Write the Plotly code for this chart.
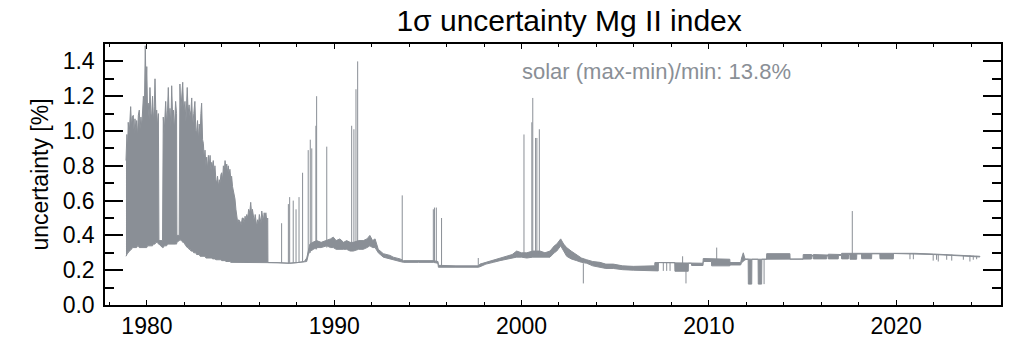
import plotly.graph_objects as go

# ---- data (decimal year, 1-sigma uncertainty in %) ----
# envelope of the daily uncertainty: lower and upper bound of the values
env_year = [
    1978.88, 1978.93, 1978.97, 1979.00, 1979.05, 1979.09, 1979.13, 1979.18, 1979.22, 1979.27,
    1979.32, 1979.36, 1979.41, 1979.45, 1979.50, 1979.54, 1979.59, 1979.63, 1979.68, 1979.72,
    1979.77, 1979.81, 1979.86, 1979.91, 1979.95, 1979.99, 1980.03, 1980.07, 1980.12, 1980.16,
    1980.21, 1980.25, 1980.30, 1980.34, 1980.39, 1980.43, 1980.48, 1980.52, 1980.57, 1980.61,
    1980.64, 1980.83, 1980.87, 1980.92, 1981.00, 1981.05, 1981.10, 1981.14, 1981.19, 1981.23,
    1981.28, 1981.32, 1981.37, 1981.41, 1981.46, 1981.50, 1981.53, 1981.58, 1981.60, 1981.72,
    1981.74, 1981.76, 1981.81, 1981.86, 1981.91, 1981.96, 1982.03, 1982.08, 1982.15, 1982.20,
    1982.25, 1982.30, 1982.35, 1982.39, 1982.44, 1982.50, 1982.56, 1982.61, 1982.65, 1982.70,
    1982.74, 1982.79, 1982.84, 1982.88, 1982.92, 1982.97, 1983.01, 1983.06, 1983.10, 1983.15,
    1983.19, 1983.24, 1983.28, 1983.33, 1983.37, 1983.42, 1983.46, 1983.50, 1983.54, 1983.59,
    1983.63, 1983.68, 1983.72, 1983.77, 1983.81, 1983.86, 1983.90, 1983.95, 1983.99, 1984.04,
    1984.08, 1984.13, 1984.17, 1984.22, 1984.26, 1984.30, 1984.34, 1984.39, 1984.43, 1984.48,
    1984.52, 1984.57, 1984.61, 1984.66, 1984.70, 1984.75, 1984.80, 1984.85, 1984.90, 1984.97,
    1985.03, 1985.09, 1985.14, 1985.19, 1985.24, 1985.28, 1985.33, 1985.38, 1985.43, 1985.49,
    1985.54, 1985.59, 1985.63, 1985.68, 1985.73, 1985.78, 1985.82, 1985.86, 1985.91, 1985.96,
    1986.00, 1986.05, 1986.09, 1986.13, 1986.17, 1986.21, 1986.26, 1986.30, 1986.35, 1986.39,
    1986.45, 1986.46, 1987.00, 1987.60, 1988.00, 1988.40, 1988.53, 1988.62, 1988.70, 1988.85,
    1989.06, 1989.30, 1989.60, 1989.80, 1989.95, 1990.10, 1990.30, 1990.50, 1990.66, 1990.85,
    1991.02, 1991.30, 1991.55, 1991.75, 1991.90, 1992.05, 1992.18, 1992.35, 1992.62, 1992.98,
    1993.15, 1993.51, 1993.70, 1994.50, 1995.29, 1995.54, 1995.56, 1996.50, 1997.69, 1997.78,
    1998.10, 1998.49, 1998.85, 1999.21, 1999.50, 1999.74, 2000.00, 2000.28, 2000.60, 2000.99,
    2001.25, 2001.52, 2001.75, 2001.88, 2002.09, 2002.25, 2002.41, 2002.65, 2002.94, 2003.20,
    2003.48, 2003.80, 2004.19, 2004.50, 2004.90, 2005.40, 2005.97, 2006.50, 2007.03, 2007.11,
    2007.12, 2007.30, 2007.31, 2008.18, 2008.19, 2008.90, 2008.91, 2009.07, 2009.08, 2009.69,
    2009.70, 2010.14, 2010.15, 2011.12, 2011.13, 2011.70, 2011.75, 2011.84, 2011.93, 2012.10,
    2012.11, 2012.29, 2012.30, 2012.63, 2012.64, 2012.82, 2012.83, 2013.08, 2013.09, 2014.33,
    2014.34, 2015.03, 2015.04, 2015.49, 2015.50, 2015.57, 2015.58, 2016.29, 2016.30, 2016.37,
    2016.38, 2016.91, 2016.92, 2017.08, 2017.09, 2017.45, 2017.46, 2017.53, 2017.54, 2017.89,
    2017.90, 2018.15, 2018.16, 2018.69, 2018.70, 2019.13, 2019.14, 2019.85, 2019.86, 2021.00,
    2022.00, 2023.00, 2024.00, 2024.47,
]
env_low = [
    0.28, 0.29, 0.30, 0.30, 0.31, 0.31, 0.32, 0.32, 0.33, 0.33,
    0.33, 0.33, 0.33, 0.33, 0.34, 0.34, 0.33, 0.33, 0.33, 0.33,
    0.33, 0.33, 0.33, 0.33, 0.33, 0.33, 0.34, 0.34, 0.34, 0.34,
    0.34, 0.34, 0.34, 0.35, 0.35, 0.35, 0.36, 0.36, 0.36, 0.35,
    0.35, 0.33, 0.33, 0.34, 0.34, 0.34, 0.35, 0.35, 0.35, 0.35,
    0.35, 0.35, 0.35, 0.35, 0.35, 0.35, 0.35, 0.35, 0.36, 0.37,
    0.37, 0.38, 0.37, 0.37, 0.36, 0.36, 0.35, 0.34, 0.33, 0.33,
    0.32, 0.32, 0.31, 0.31, 0.31, 0.30, 0.30, 0.30, 0.29, 0.29,
    0.29, 0.29, 0.28, 0.28, 0.28, 0.28, 0.28, 0.28, 0.28, 0.27,
    0.27, 0.27, 0.27, 0.27, 0.27, 0.27, 0.27, 0.265, 0.265, 0.265,
    0.265, 0.26, 0.26, 0.26, 0.26, 0.26, 0.26, 0.26, 0.255, 0.255,
    0.255, 0.255, 0.255, 0.25, 0.25, 0.25, 0.25, 0.25, 0.25, 0.245,
    0.245, 0.245, 0.245, 0.245, 0.245, 0.245, 0.245, 0.245, 0.245, 0.245,
    0.245, 0.245, 0.245, 0.245, 0.245, 0.245, 0.245, 0.245, 0.245, 0.245,
    0.245, 0.245, 0.245, 0.245, 0.245, 0.245, 0.245, 0.245, 0.245, 0.245,
    0.245, 0.245, 0.245, 0.245, 0.245, 0.245, 0.245, 0.245, 0.245, 0.245,
    0.245, 0.244, 0.243, 0.240, 0.243, 0.248, 0.25, 0.29, 0.31, 0.32,
    0.33, 0.33, 0.34, 0.33, 0.33, 0.32, 0.32, 0.32, 0.32, 0.31,
    0.31, 0.32, 0.32, 0.33, 0.34, 0.33, 0.33, 0.30, 0.275, 0.265,
    0.26, 0.25, 0.245, 0.245, 0.245, 0.24, 0.217, 0.217, 0.217, 0.22,
    0.235, 0.245, 0.255, 0.265, 0.27, 0.275, 0.275, 0.27, 0.275, 0.275,
    0.275, 0.275, 0.30, 0.31, 0.34, 0.31, 0.28, 0.265, 0.255, 0.245,
    0.24, 0.225, 0.215, 0.21, 0.21, 0.203, 0.2, 0.2, 0.2, 0.2,
    0.196, 0.196, 0.244, 0.244, 0.194, 0.194, 0.24, 0.24, 0.227, 0.227,
    0.25, 0.25, 0.225, 0.225, 0.23, 0.23, 0.244, 0.25, 0.26, 0.263,
    0.12, 0.12, 0.263, 0.263, 0.12, 0.12, 0.263, 0.263, 0.263, 0.263,
    0.263, 0.263, 0.265, 0.265, 0.282, 0.282, 0.265, 0.265, 0.282, 0.282,
    0.265, 0.265, 0.285, 0.285, 0.265, 0.265, 0.29, 0.29, 0.263, 0.263,
    0.293, 0.293, 0.266, 0.266, 0.294, 0.294, 0.265, 0.265, 0.296, 0.294,
    0.290, 0.285, 0.280, 0.276,
]
env_high = [
    0.83, 0.98, 0.90, 1.05, 0.98, 1.10, 1.14, 1.02, 1.08, 1.09,
    0.98, 1.07, 1.00, 1.06, 0.97, 1.09, 1.12, 1.01, 1.08, 1.02,
    1.12, 1.20, 1.10, 1.49, 1.25, 1.37, 1.12, 1.16, 1.06, 1.25,
    1.10, 1.08, 1.20, 1.05, 1.14, 1.30, 1.08, 1.12, 1.02, 1.10,
    0.37, 0.37, 1.08, 0.99, 1.17, 1.04, 1.12, 1.25, 1.06, 1.13,
    1.02, 1.26, 1.08, 1.12, 1.00, 1.10, 1.17, 1.10, 0.40, 0.40,
    1.20, 1.27, 1.12, 1.22, 1.28, 1.10, 1.17, 1.05, 1.25, 1.10,
    1.15, 1.08, 1.12, 1.19, 1.02, 1.10, 1.17, 1.00, 0.99, 1.06,
    0.94, 1.04, 0.98, 1.10, 1.16, 0.95, 0.93, 0.84, 0.89, 0.80,
    0.85, 0.78, 0.86, 0.80, 0.86, 0.77, 0.82, 0.79, 0.83, 0.76,
    0.80, 0.72, 0.70, 0.74, 0.68, 0.72, 0.70, 0.75, 0.76, 0.72,
    0.80, 0.77, 0.83, 0.78, 0.81, 0.76, 0.80, 0.75, 0.78, 0.72,
    0.74, 0.68, 0.66, 0.63, 0.61, 0.55, 0.49, 0.47, 0.49, 0.48,
    0.46, 0.50, 0.50, 0.47, 0.51, 0.49, 0.52, 0.50, 0.55, 0.53,
    0.59, 0.52, 0.55, 0.51, 0.48, 0.52, 0.46, 0.45, 0.49, 0.47,
    0.52, 0.50, 0.47, 0.54, 0.51, 0.48, 0.53, 0.50, 0.53, 0.49,
    0.50, 0.244, 0.243, 0.240, 0.243, 0.250, 0.27, 0.32, 0.35, 0.36,
    0.37, 0.36, 0.37, 0.38, 0.39, 0.37, 0.38, 0.36, 0.37, 0.36,
    0.36, 0.37, 0.37, 0.38, 0.40, 0.37, 0.38, 0.32, 0.295, 0.285,
    0.275, 0.265, 0.255, 0.255, 0.255, 0.25, 0.228, 0.225, 0.225, 0.235,
    0.245, 0.26, 0.27, 0.28, 0.29, 0.31, 0.30, 0.30, 0.31, 0.31,
    0.30, 0.31, 0.34, 0.35, 0.38, 0.35, 0.33, 0.31, 0.29, 0.27,
    0.26, 0.25, 0.245, 0.235, 0.235, 0.225, 0.222, 0.222, 0.225, 0.225,
    0.244, 0.244, 0.244, 0.244, 0.244, 0.24, 0.24, 0.24, 0.24, 0.24,
    0.267, 0.267, 0.263, 0.263, 0.244, 0.244, 0.27, 0.30, 0.265, 0.263,
    0.263, 0.263, 0.263, 0.263, 0.263, 0.263, 0.263, 0.263, 0.295, 0.295,
    0.263, 0.263, 0.29, 0.29, 0.285, 0.285, 0.29, 0.29, 0.287, 0.287,
    0.292, 0.292, 0.29, 0.29, 0.297, 0.297, 0.294, 0.294, 0.297, 0.297,
    0.297, 0.297, 0.297, 0.297, 0.297, 0.297, 0.297, 0.297, 0.298, 0.297,
    0.293, 0.289, 0.284, 0.280,
]

# isolated single-day excursions: year, value on the baseline, excursion value
spike_year = [
    1987.19, 1987.55, 1987.62, 1987.81, 1987.96, 1988.12, 1988.31, 1988.61, 1988.72, 1988.80,
    1989.02, 1989.06, 1989.60, 1990.93, 1991.05, 1991.16, 1991.25, 1993.63, 1995.29, 1995.35,
    1995.45, 1995.73, 1997.69, 2000.13, 2000.55, 2000.60, 2000.75, 2000.82, 2000.95, 2003.30,
    2007.57, 2007.75, 2007.93, 2008.60, 2008.78, 2010.42, 2012.95, 2017.66, 2020.74, 2020.92,
    2021.98, 2022.16, 2022.25, 2022.70, 2022.97, 2023.59, 2023.94, 2024.12, 2024.30,
]
spike_base = [
    0.242, 0.240, 0.240, 0.242, 0.243, 0.245, 0.248, 0.29, 0.30, 0.31,
    0.32, 0.32, 0.33, 0.33, 0.33, 0.33, 0.33, 0.25, 0.25, 0.25,
    0.25, 0.222, 0.222, 0.28, 0.29, 0.29, 0.29, 0.29, 0.29, 0.24,
    0.244, 0.244, 0.244, 0.24, 0.24, 0.26, 0.263, 0.29, 0.296, 0.296,
    0.293, 0.292, 0.292, 0.290, 0.289, 0.287, 0.285, 0.283, 0.282,
]
spike_value = [
    0.47, 0.58, 0.62, 0.60, 0.55, 0.62, 0.76, 0.89, 0.95, 0.90,
    1.03, 1.20, 0.91, 1.03, 1.01, 1.24, 1.40, 0.63, 0.55, 0.56,
    0.56, 0.50, 0.27, 0.98, 1.05, 1.19, 0.96, 0.96, 1.01, 0.124,
    0.196, 0.196, 0.196, 0.28, 0.124, 0.33, 0.12, 0.54, 0.263, 0.263,
    0.255, 0.26, 0.25, 0.26, 0.255, 0.26, 0.25, 0.26, 0.263,
]

x_ticks = [1980, 1990, 2000, 2010, 2020]
y_ticks = [0.0, 0.2, 0.4, 0.6, 0.8, 1.0, 1.2, 1.4]

title_text = "1σ uncertainty Mg II index"
note_text = "solar (max-min)/min: 13.8%"

GRAY = "#8a8f96"
FONT = "Liberation Sans, Arial, Helvetica, sans-serif"

# ---- figure ----
band_x = env_year + env_year[::-1]
band_y = env_high + env_low[::-1]

sp_x, sp_y = [], []
for yr, b, v in zip(spike_year, spike_base, spike_value):
    sp_x += [yr, yr, None]
    sp_y += [b, v, None]

fig = go.Figure()
fig.add_trace(go.Scatter(
    x=band_x, y=band_y, mode="lines", fill="toself", fillcolor=GRAY,
    line=dict(color=GRAY, width=1), hoverinfo="skip", showlegend=False,
))
fig.add_trace(go.Scatter(
    x=sp_x, y=sp_y, mode="lines", line=dict(color=GRAY, width=1),
    hoverinfo="skip", showlegend=False,
))

fig.update_layout(
    width=1025, height=342,
    margin=dict(l=105, r=24, t=44, b=37, autoexpand=False),
    paper_bgcolor="white", plot_bgcolor="white",
    font=dict(family=FONT, color="black", size=23),
    title=dict(text=title_text, x=0.518, xref="paper", xanchor="center",
               y=1 - 20 / 342, yref="container", yanchor="middle",
               font=dict(size=30, family=FONT, color="black")),
    annotations=[dict(text=note_text, xref="paper", yref="paper",
                      x=0.463, y=0.893, xanchor="left", yanchor="middle",
                      showarrow=False, font=dict(size=22, color=GRAY, family=FONT))],
)

fig.update_xaxes(
    range=[1977.76, 2025.6], showgrid=False, zeroline=False,
    showline=True, linecolor="black", linewidth=1.5, mirror="ticks",
    ticks="inside", ticklen=5, tickwidth=1.2, tickcolor="black",
    tickvals=x_ticks, ticktext=[str(v) for v in x_ticks],
    tickfont=dict(size=23, family=FONT),
    minor=dict(ticks="inside", ticklen=3, dtick=2, tick0=1978, tickcolor="black", tickwidth=1.2),
    automargin=False,
)
fig.update_yaxes(
    range=[0.0, 1.5], showgrid=False, zeroline=False,
    showline=True, linecolor="black", linewidth=1.5, mirror="ticks",
    ticks="inside", ticklen=18, tickwidth=1.5, tickcolor="black",
    tickvals=y_ticks, ticktext=[f"{v:.1f}" for v in y_ticks],
    tickfont=dict(size=23, family=FONT),
    ticklabelstandoff=4,
    minor=dict(ticks="inside", ticklen=9, dtick=0.1, tick0=0, tickcolor="black", tickwidth=1.5),
    title=dict(text="uncertainty [%]", font=dict(size=23, family=FONT), standoff=8),
    automargin=False,
)

fig.write_html("out.html")
